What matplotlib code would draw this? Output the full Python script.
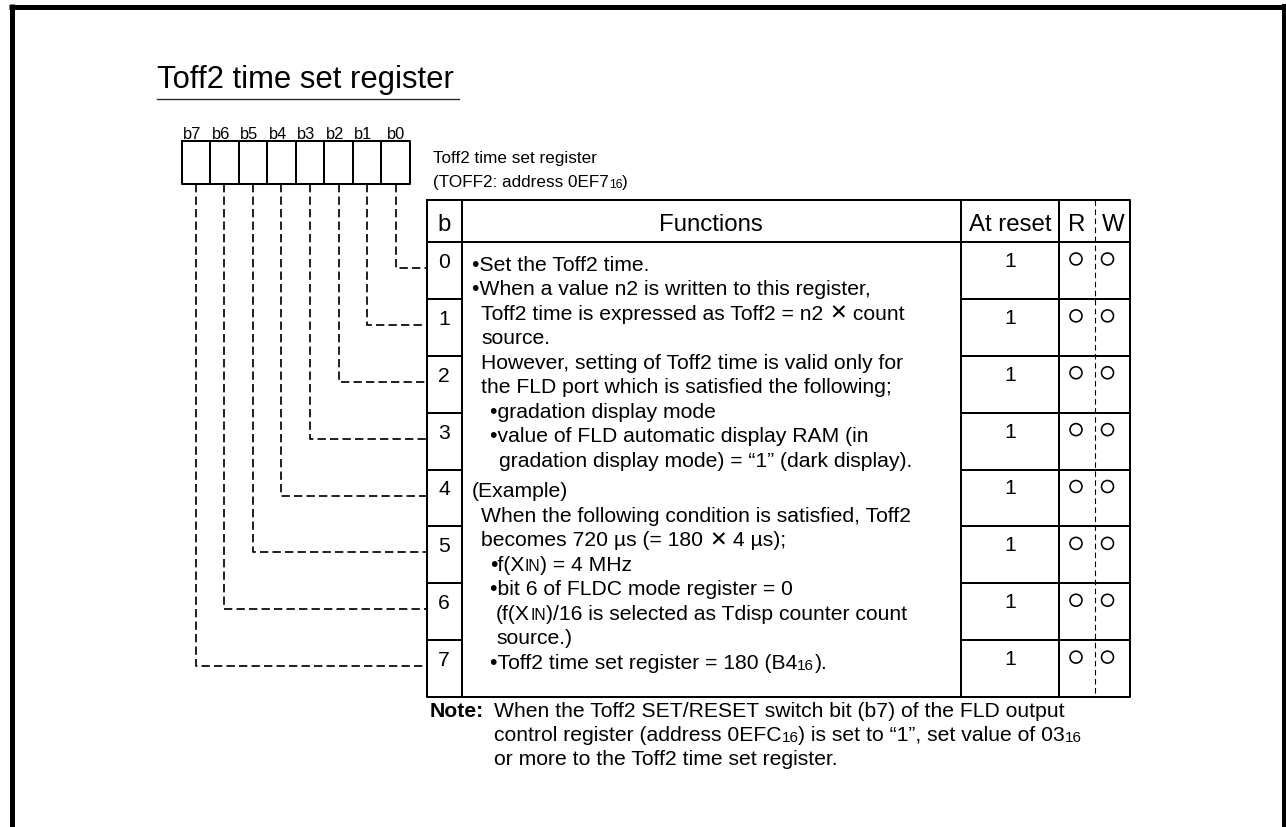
import matplotlib
matplotlib.use("Agg")
import matplotlib.pyplot as plt
from matplotlib.patches import Circle

plt.rcParams['lines.scale_dashes'] = False
FAM = ['Liberation Sans', 'DejaVu Sans']
plt.rcParams['font.family'] = FAM

# ---------------- data ----------------
title = "Toff2 time set register"
bit_labels = ["b7", "b6", "b5", "b4", "b3", "b2", "b1", "b0"]
reg_name = "Toff2 time set register"
reg_addr = [("(TOFF2: address 0EF7", ""), ("16", "sub"), (")", "")]
header = ["b", "Functions", "At reset", "R", "W"]
row_bits = ["0", "1", "2", "3", "4", "5", "6", "7"]
reset_values = ["1", "1", "1", "1", "1", "1", "1", "1"]
readable = [True] * 8
writable = [True] * 8
# function text: (indent level, segments)
func_lines_a = [
    (0, [("•Set the Toff2 time.", "")]),
    (0, [("•When a value n2 is written to this register,", "")]),
    (1, [("Toff2 time is expressed as Toff2 = n2 ", ""), ("✕", "x"), (" count", "")]),
    (1, [("source.", "")]),
    (1, [("However, setting of Toff2 time is valid only for", "")]),
    (1, [("the FLD port which is satisfied the following;", "")]),
    (2, [("•gradation display mode", "")]),
    (2, [("•value of FLD automatic display RAM (in", "")]),
    (3, [("gradation display mode) = “1” (dark display).", "")]),
]
func_lines_b = [
    (0, [("(Example)", "")]),
    (1, [("When the following condition is satisfied, Toff2", "")]),
    (1, [("becomes 720 µs (= 180 ", ""), ("✕", "x"), (" 4 µs);", "")]),
    (2, [("•f(X", ""), ("IN", "sc"), (") = 4 MHz", "")]),
    (2, [("•bit 6 of FLDC mode register = 0", "")]),
    (4, [("(f(X", ""), ("IN", "sc"), (")/16 is selected as Tdisp counter count", "")]),
    (4, [("source.)", "")]),
    (2, [("•Toff2 time set register = 180 (B4", ""), ("16", "sub"), (").", "")]),
]
note_label = "Note:"
note_lines = [
    [("When the Toff2 SET/RESET switch bit (b7) of the FLD output", "")],
    [("control register (address 0EFC", ""), ("16", "sub"), (") is set to “1”, set value of 03", ""), ("16", "sub")],
    [("or more to the Toff2 time set register.", "")],
]

# ---------------- figure ----------------
W, H = 1286, 828
fig = plt.figure(figsize=(W / 100, H / 100), dpi=100)
ax = fig.add_axes([0, 0, 1, 1])
ax.set_xlim(0, W)
ax.set_ylim(H, 0)
ax.axis('off')
renderer = fig.canvas.get_renderer()

BODY = 15.2
HEAD = 17.3
PT = 0.72  # points per pixel


def rich(x, y, segs, size, weight='normal'):
    for text, kind in segs:
        s, dy = size, 0
        if kind == "sub":
            s, dy = size * 0.72, 1.5
        elif kind == "sc":
            s, dy = size * 0.74, 0
        elif kind == "x":
            s, dy = size * 1.0, 0
        t = ax.text(x, y + dy, text, fontsize=s, va='baseline', ha='left',
                    family=FAM, weight=weight, color='black')
        bb = t.get_window_extent(renderer)
        x += bb.width
    return x


# outer frame
ax.plot([9, 1285], [7.5, 7.5], color='black', lw=5 * PT, solid_capstyle='butt')
ax.plot([11.5, 11.5], [5, H], color='black', lw=5 * PT, solid_capstyle='butt')
ax.plot([1283.5, 1283.5], [5, H], color='black', lw=4 * PT, solid_capstyle='butt')

# title
ax.text(157, 88, title, fontsize=22.3, va='baseline', ha='left', family=FAM)
ax.plot([157, 459], [99.5, 99.5], color='#222222', lw=1.3 * PT)

# register bit boxes
bx0, bx1 = 181.5, 410
by0, by1 = 142, 185
cw = (bx1 - bx0) / len(bit_labels)
LW = 2 * PT
ax.plot([bx0, bx1, bx1, bx0, bx0], [by0, by0, by1, by1, by0], color='black', lw=LW)
for i in range(1, len(bit_labels)):
    ax.plot([bx0 + i * cw] * 2, [by0, by1], color='black', lw=LW)
for i, lab in enumerate(bit_labels):
    ax.text(bx0 + i * cw + 1.5 + (4 if i == len(bit_labels) - 1 else 0), 139, lab,
            fontsize=11.8, ha='left', va='baseline', family=FAM)

# register name
ax.text(433, 163, reg_name, fontsize=12.3, ha='left', va='baseline', family=FAM)
rich(433, 187, reg_addr, 12.3)

# table geometry
tx0, tcb, tcf, tca, tcr, tx1 = 426.7, 461.7, 961, 1059.3, 1095, 1130
ty0, thb = 201, 243
rh = (698 - thb) / len(row_bits)
ty1 = thb + rh * len(row_bits)

# outer table
ax.plot([tx0, tx1, tx1, tx0, tx0], [ty0, ty0, ty1, ty1, ty0], color='black', lw=LW)
ax.plot([tx0, tx1], [thb, thb], color='black', lw=LW)
for xx in (tcb, tcf, tca):
    ax.plot([xx, xx], [ty0, ty1], color='black', lw=LW)
ax.plot([tcr, tcr], [ty0, ty1], color='black', lw=1.1 * PT, dashes=(4, 2.5))
for r in range(1, len(row_bits)):
    yy = thb + r * rh
    ax.plot([tx0, tcb], [yy, yy], color='black', lw=LW)
    ax.plot([tcf, tx1], [yy, yy], color='black', lw=LW)

# header
hb = 231
ax.text((tx0 + tcb) / 2, hb, header[0], fontsize=HEAD, ha='center', va='baseline', family=FAM)
ax.text((tcb + tcf) / 2, hb, header[1], fontsize=HEAD, ha='center', va='baseline', family=FAM)
ax.text((tcf + tca) / 2, hb, header[2], fontsize=HEAD, ha='center', va='baseline', family=FAM)
ax.text((tca + tcr) / 2, hb, header[3], fontsize=HEAD, ha='center', va='baseline', family=FAM)
ax.text((tcr + tx1) / 2 + 1, hb, header[4], fontsize=HEAD, ha='center', va='baseline', family=FAM)

# rows
for r, lab in enumerate(row_bits):
    top = thb + r * rh
    ax.text((tx0 + tcb) / 2, top + 25, lab, fontsize=BODY, ha='center', va='baseline', family=FAM)
    ax.text((tcf + tca) / 2, top + 24, reset_values[r], fontsize=BODY, ha='center', va='baseline', family=FAM)
    if readable[r]:
        ax.add_patch(Circle((1076, top + 17), 6, fill=False, ec='black', lw=1.6 * PT))
    if writable[r]:
        ax.add_patch(Circle((1107.5, top + 17), 6, fill=False, ec='black', lw=1.6 * PT))

# dashed leader lines from bits to rows
for r, lab in enumerate(row_bits):
    bit_idx = bit_labels.index("b" + lab)
    xc = bx0 + (bit_idx + 0.5) * cw
    yh = thb + r * rh + 26
    ax.plot([xc, xc, tx0], [by1, yh, yh], color='black', lw=1.7 * PT, dashes=(6, 3))

# function text
indent = {0: 472, 1: 481, 2: 490, 3: 499, 4: 496}
for i, (lvl, segs) in enumerate(func_lines_a):
    rich(indent[lvl], 271 + 24.5 * i, segs, BODY)
nb = len(func_lines_b)
for i, (lvl, segs) in enumerate(func_lines_b):
    rich(indent[lvl], 669 - 24.5 * (nb - 1 - i), segs, BODY)

# note
ax.text(430, 717, note_label, fontsize=BODY, weight='bold', ha='left', va='baseline', family=FAM)
for i, segs in enumerate(note_lines):
    rich(494, 717 + 24 * i, segs, BODY)

fig.savefig("out.png", dpi=100)
